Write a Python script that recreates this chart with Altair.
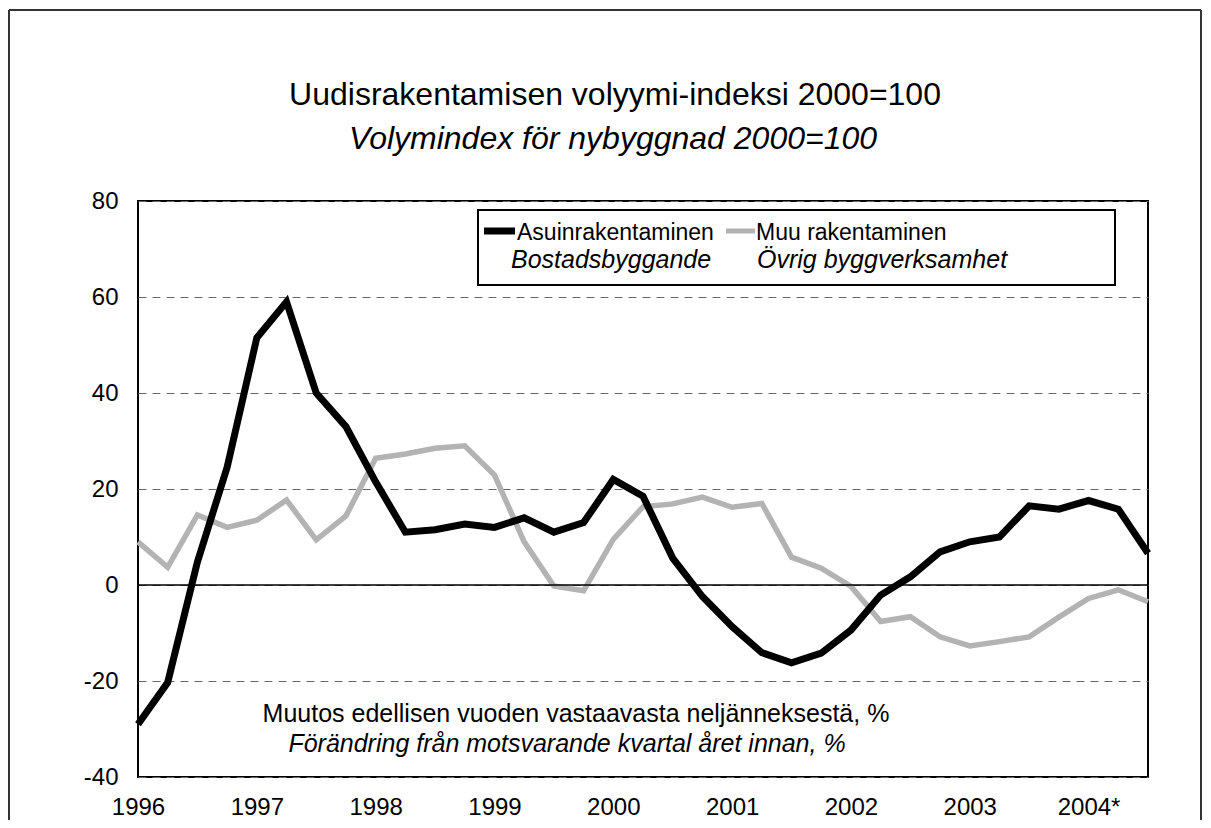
import altair as alt
import pandas as pd

# ---- data ----
quarters = list(range(35))  # 1996Q1 .. 2004Q3
asuin = [-29, -20.3, 4.8, 24.5, 51.5, 59, 40, 33, 21.5, 11, 11.5, 12.7, 12, 14, 11, 13,
         22, 18.5, 5.6, -2.4, -8.7, -14.1, -16.2, -14.2, -9.4, -2.1, 1.7, 6.9, 9, 10,
         16.5, 15.8, 17.6, 15.8, 6.6]
muu = [9, 3.7, 14.6, 12, 13.5, 17.7, 9.4, 14.4, 26.4, 27.3, 28.5, 29, 22.9, 9, -0.2, -1.2,
       9.5, 16.3, 16.9, 18.3, 16.2, 17, 5.8, 3.5, -0.3, -7.6, -6.6, -10.8, -12.7, -11.8,
       -10.8, -6.7, -2.8, -1, -3.5]
year_labels = ["1996", "1997", "1998", "1999", "2000", "2001", "2002", "2003", "2004*"]
year_ticks = [0, 4, 8, 12, 16, 20, 24, 28, 32]
y_ticks = [-40, -20, 0, 20, 40, 60, 80]

title1 = "Uudisrakentamisen volyymi-indeksi 2000=100"
title2 = "Volymindex för nybyggnad 2000=100"
leg1a, leg1b = "Asuinrakentaminen", "Bostadsbyggande"
leg2a, leg2b = "Muu rakentaminen", "Övrig byggverksamhet"
note1 = "Muutos edellisen vuoden vastaavasta neljänneksestä, %"
note2 = "Förändring från motsvarande kvartal året innan, %"

FONT = "Liberation Sans, Arial, sans-serif"

W, H = 1010, 576

df = pd.DataFrame({"q": quarters, "asuin": asuin, "muu": muu})
one = pd.DataFrame({"k": [0]})

label_expr = "[" + ",".join("'%s'" % s for s in year_labels) + "][datum.value/4]"

xenc = alt.X("q:Q", scale=alt.Scale(domain=[0, 34], nice=False, zero=False),
             axis=alt.Axis(values=year_ticks, labelExpr=label_expr, grid=False, ticks=False,
                           domain=False, title=None, labelFont=FONT, labelFontSize=24,
                           labelColor="black", labelPadding=18, labelFlush=False))
yscale = alt.Scale(domain=[-40, 80], nice=False)

grey_line = alt.Chart(df).mark_line(color="#b3b3b3", strokeWidth=5.5).encode(
    x=xenc,
    y=alt.Y("muu:Q", scale=yscale,
            axis=alt.Axis(values=y_ticks, grid=True, gridDash=[8, 6], gridColor="#666666",
                          gridWidth=1, ticks=False, domain=False, title=None,
                          labelExpr="'' + datum.value",
                          labelFont=FONT, labelFontSize=24, labelColor="black",
                          labelPadding=20)),
)
black_line = alt.Chart(df).mark_line(color="black", strokeWidth=7, strokeJoin="miter").encode(
    x=alt.X("q:Q"), y=alt.Y("asuin:Q"))

zero = alt.Chart(pd.DataFrame({"v": [0]})).mark_rule(color="black", strokeWidth=1.5).encode(
    y=alt.Y("v:Q"))


def txt(s, x, y, size, italic=False, align="left"):
    return alt.Chart(one).mark_text(
        text=s, font=FONT, fontSize=size, fontStyle="italic" if italic else "normal",
        align=align, baseline="alphabetic", color="black").encode(
        x=alt.value(x), y=alt.value(y))


def rule(x1, y1, x2, y2, color="black", width=2):
    return alt.Chart(one).mark_rule(color=color, strokeWidth=width).encode(
        x=alt.value(x1), y=alt.value(y1), x2=alt.value(x2), y2=alt.value(y2))


legend_box = alt.Chart(one).mark_rect(fill="white", stroke="black", strokeWidth=2).encode(
    x=alt.value(340), x2=alt.value(977), y=alt.value(9), y2=alt.value(84))

layers = [
    grey_line, zero, black_line,
    legend_box,
    rule(346, 30, 377, 30, "black", 7),
    txt(leg1a, 379, 39, 23),
    txt(leg1b, 373, 67, 25, italic=True),
    rule(588, 30, 617, 30, "#b3b3b3", 5),
    txt(leg2a, 618, 39, 23),
    txt(leg2b, 619, 67, 25, italic=True),
    txt(note1, 438, 521, 25, align="center"),
    txt(note2, 429, 551, 25, italic=True, align="center"),
    txt(title1, 477, -96, 32, align="center"),
    txt(title2, 475, -52, 32, italic=True, align="center"),
    # outer frame (bottom edge lies below the visible page)
    rule(-129, -191, 1063, -191, "#333333", 2),
    rule(-129, -191, -129, 640, "#333333", 2),
    rule(1063, -191, 1063, 640, "#333333", 2),
]

chart = alt.layer(*layers).properties(
    width=W, height=H,
    background="white",
    autosize=alt.AutoSizeParams(type="none"),
    padding={"left": 130, "top": 193, "right": 55, "bottom": 43},
).configure_view(stroke="black", strokeWidth=2)

chart.save("out.html", embed_options={"renderer": "svg", "actions": False})
